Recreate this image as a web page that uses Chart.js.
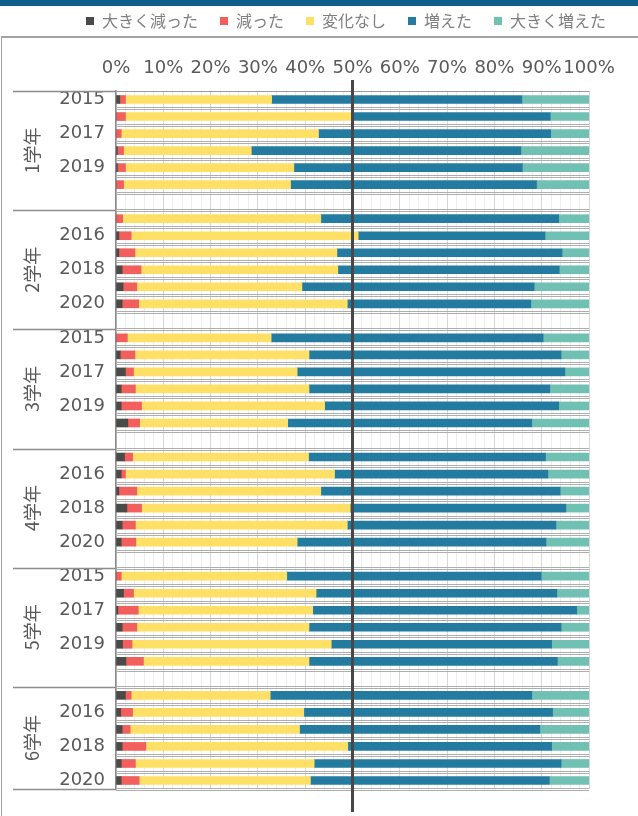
<!DOCTYPE html>
<html>
<head>
<meta charset="utf-8">
<script src="https://cdn.jsdelivr.net/npm/chart.js@4"></script>
<style>
  body { margin: 0; background: #fff; }
  #wrap { position: relative; width: 638px; height: 816px; overflow: hidden; }
  #band { position: absolute; left: 0; top: 0; width: 638px; height: 6px; background: #0d5f8a; }
  #frame { position: absolute; left: 1px; top: 36px; width: 640px; height: 790px;
           border-top: 2px solid #a3a3a3; border-left: 1px solid #a3a3a3; }
  canvas { position: absolute; left: 0; top: 0; }
</style>
</head>
<body>
<div id="wrap">
  <div id="band"></div>
  <div id="frame"></div>
  <canvas id="chart" width="638" height="816"></canvas>
</div>
<script>
const grades = ["1学年", "2学年", "3学年", "4学年", "5学年", "6学年"];
const years = ["2015", "2016", "2017", "2018", "2019", "2020"];
const seriesNames = ["大きく減った", "減った", "変化なし", "増えた", "大きく増えた"];
const seriesColors = ["#4a4a48", "#f25f5c", "#ffe066", "#247ba0", "#70c1b3"];
const xTicks = [0, 10, 20, 30, 40, 50, 60, 70, 80, 90, 100];

// one value per grade/year, in grade order (6 years each)
const bigDecrease = [
  0.8, 0, 0, 0.3, 0.3, 0,
  0, 0.6, 0.6, 1.3, 1.5, 1.3,
  0, 0.9, 2.0, 1.1, 1.1, 2.5,
  1.8, 1.1, 0.6, 2.3, 1.3, 1.1,
  0, 1.6, 0.4, 1.3, 1.4, 2.1,
  2.0, 1.0, 1.3, 1.3, 1.1, 1.1,
];
const decrease = [
  1.2, 2.0, 1.1, 1.3, 1.7, 1.6,
  1.4, 2.6, 3.4, 4.0, 2.9, 3.5,
  2.4, 3.1, 1.7, 3.0, 4.3, 2.5,
  1.7, 0.9, 3.8, 3.1, 2.8, 3.1,
  1.1, 2.1, 4.3, 3.1, 2.0, 3.7,
  1.2, 2.5, 1.7, 5.0, 3.0, 3.8,
];
const noChange = [
  30.9, 48.0, 41.7, 27.0, 35.6, 35.3,
  41.9, 48.0, 42.7, 41.6, 34.9, 44.1,
  30.4, 36.8, 34.6, 36.7, 38.7, 31.3,
  37.2, 44.2, 38.9, 44.1, 44.8, 34.1,
  35.0, 38.6, 36.9, 36.4, 42.1, 35.0,
  29.4, 36.2, 35.8, 42.7, 37.8, 36.2,
];
const increase = [
  52.9, 41.8, 49.1, 57.0, 48.3, 52.0,
  50.3, 39.5, 47.6, 46.8, 49.1, 38.8,
  57.5, 53.3, 56.6, 50.9, 49.5, 51.6,
  50.1, 45.1, 50.6, 45.6, 44.1, 52.6,
  53.8, 50.9, 55.8, 53.3, 46.6, 52.5,
  55.3, 52.6, 50.8, 43.1, 52.2, 50.5,
];
const bigIncrease = [
  14.2, 8.2, 8.1, 14.4, 14.1, 11.1,
  6.4, 9.3, 5.7, 6.3, 11.6, 12.3,
  9.7, 5.9, 5.1, 8.3, 6.4, 12.1,
  9.2, 8.7, 6.1, 4.9, 7.0, 9.1,
  10.1, 6.8, 2.6, 5.9, 7.9, 6.7,
  12.1, 7.7, 10.4, 7.9, 5.9, 8.4,
];
const seriesValues = [bigDecrease, decrease, noChange, increase, bigIncrease];

// category axis: 6 years per grade, an empty slot between grades
const labels = [];
const groupRanges = [];
grades.forEach((g, gi) => {
  const first = labels.length;
  years.forEach((y) => labels.push(y));
  if (gi < grades.length - 1) labels.push("");
  groupRanges.push([first, labels.length - 1]);
});

function spread(values) {
  const out = [];
  grades.forEach((g, gi) => {
    out.push(...values.slice(gi * years.length, (gi + 1) * years.length));
    if (gi < grades.length - 1) out.push(null);
  });
  return out;
}

const textGray = "#595959";
const digitFont = "'DejaVu Sans', sans-serif";
const cjkFont = "'Noto Sans CJK JP', sans-serif";

const frameLines = {
  id: "frameLines",
  beforeDatasetsDraw(chart) {
    const { ctx, chartArea } = chart;
    const y = chart.scales.y;
    const slot = y.getPixelForValue(1) - y.getPixelForValue(0);
    const start = y.getPixelForValue(0) - slot / 2;
    ctx.save();
    ctx.lineWidth = 1;
    ctx.strokeStyle = "#aeaeae";
    for (let k = 1; k <= labels.length; k++) {
      const py = Math.round(start + k * slot);
      [-1, 1].forEach((d) => {
        ctx.beginPath();
        ctx.moveTo(chartArea.left, py + d + 0.5);
        ctx.lineTo(chartArea.right, py + d + 0.5);
        ctx.stroke();
      });
    }
    ctx.strokeStyle = "#9a9a9a";
    ctx.beginPath();
    ctx.moveTo(chartArea.left, Math.round(start) + 0.5);
    ctx.lineTo(chartArea.right, Math.round(start) + 0.5);
    ctx.stroke();
    // group dividers in the label area
    ctx.strokeStyle = "#8c8c8c";
    ctx.lineWidth = 1.5;
    const edges = [0];
    groupRanges.forEach((r) => edges.push(r[1] + 1));
    edges.forEach((k) => {
      const py = Math.round(start + k * slot) + 0.5;
      ctx.beginPath();
      ctx.moveTo(y.left + 3, py);
      ctx.lineTo(chartArea.left, py);
      ctx.stroke();
    });
    ctx.restore();
  },
  afterDatasetsDraw(chart) {
    const { ctx, chartArea } = chart;
    const x = chart.scales.x.getPixelForValue(50);
    ctx.save();
    ctx.strokeStyle = "#474747";
    ctx.lineWidth = 3;
    ctx.beginPath();
    ctx.moveTo(x, chartArea.top - 11);
    ctx.lineTo(x, chartArea.bottom + 23);
    ctx.stroke();
    ctx.restore();
  },
  afterDraw(chart) {
    const { ctx } = chart;
    const y = chart.scales.y;
    ctx.save();
    ctx.fillStyle = textGray;
    ctx.font = "18px " + cjkFont;
    ctx.textAlign = "center";
    ctx.textBaseline = "middle";
    grades.forEach((g, gi) => {
      const [a, b] = groupRanges[gi];
      const cy = (y.getPixelForValue(a) + y.getPixelForValue(b)) / 2;
      ctx.save();
      ctx.translate(y.left + 22, cy);
      ctx.rotate(-Math.PI / 2);
      ctx.fillText(g, 0, 0);
      ctx.restore();
    });
    ctx.restore();
  },
};

new Chart(document.getElementById("chart"), {
  type: "bar",
  data: {
    labels,
    datasets: seriesNames.map((name, i) => ({
      label: name,
      data: spread(seriesValues[i]),
      backgroundColor: seriesColors[i],
      borderWidth: 0,
      barThickness: 8,
    })),
  },
  options: {
    indexAxis: "y",
    responsive: false,
    animation: false,
    layout: { padding: { top: -9, left: 10, right: 10, bottom: 27 } },
    plugins: {
      tooltip: { enabled: false },
      legend: {
        position: "top",
        align: "end",
        labels: {
          boxWidth: 8,
          boxHeight: 8,
          padding: 22,
          color: "#7f7f7f",
          font: { family: cjkFont, size: 16 },
        },
      },
    },
    scales: {
      x: {
        position: "top",
        stacked: true,
        min: 0,
        max: 100,
        afterFit: (s) => { s.height = 52; },
        ticks: {
          stepSize: 2,
          autoSkip: false,
          maxRotation: 0,
          padding: 12,
          color: textGray,
          font: { family: digitFont, size: 18 },
          callback: (v) => (xTicks.includes(v) ? v + "%" : ""),
        },
        grid: {
          drawTicks: false,
          color: (c) => (c.tick && xTicks.includes(c.tick.value) ? "#d6d6d6" : "#ededed"),
        },
        border: { display: false },
      },
      y: {
        stacked: true,
        afterFit: (s) => { s.width = 106; },
        ticks: {
          autoSkip: false,
          padding: 11,
          color: textGray,
          font: { family: digitFont, size: 18 },
          callback: function (v, i) {
            return i % 2 === 0 ? this.getLabelForValue(v) : "";
          },
        },
        grid: { display: false, drawTicks: false },
        border: { display: true, color: "#8a8a8a", width: 1.5 },
      },
      spacer: {
        type: "category",
        position: "right",
        afterFit: (s) => { s.width = 39; },
        ticks: { display: false },
        grid: { display: false, drawTicks: false },
        border: { display: false },
      },
    },
  },
  plugins: [frameLines],
});
</script>
</body>
</html>
